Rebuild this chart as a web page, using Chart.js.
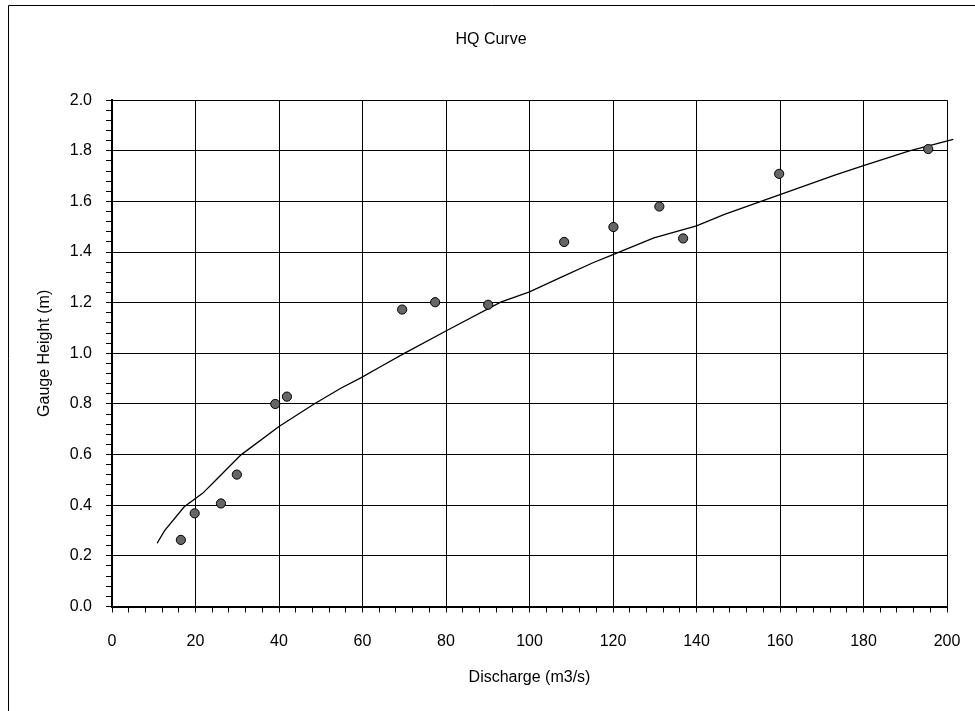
<!DOCTYPE html>
<html lang="en">
<head>
    <meta charset="UTF-8">
    <title>HQ Curve</title>
    <script src="https://cdn.jsdelivr.net/npm/chart.js@4.4.0/dist/chart.umd.min.js"></script>
    <style>
        html, body { margin: 0; padding: 0; background: #fff; }
        #hqChart { display: block; }
    </style>
</head>
<body>
    <canvas id="hqChart" width="975" height="711"></canvas>

    <script>
        // Measured discharge / gauge height pairs
        const measQ = [16.5, 19.8, 26.1, 29.9, 39.1, 41.9, 69.5, 77.4, 90.1, 108.3, 120.1, 131.1, 136.8, 159.8, 195.5];
        const measH = [0.263, 0.368, 0.407, 0.521, 0.80, 0.829, 1.173, 1.202, 1.192, 1.44, 1.499, 1.58, 1.454, 1.709, 1.807];

        // Fitted rating curve, traced point by point
        const curveQ = [10.8, 12.6, 17.3, 21.7, 24.9, 30.9, 40, 48.4, 54.8, 59.7, 64.4, 70, 81.1, 93.1, 100, 107.5, 115.2, 120, 129.8, 140, 146.7, 160, 173.3, 180, 191, 201.5];
        const curveH = [0.25, 0.30, 0.394, 0.447, 0.50, 0.599, 0.711, 0.80, 0.862, 0.904, 0.948, 1.0, 1.098, 1.202, 1.243, 1.30, 1.358, 1.39, 1.456, 1.504, 1.549, 1.627, 1.705, 1.742, 1.80, 1.845];

        // Axis ranges and tick steps
        const xRange = [0, 200];
        const yRange = [0, 2];
        const xMajor = 20, xMinor = 4;
        const yMajor = 0.2, yMinor = 0.04;

        const isMajor = (v, major, minor) => Math.round(v / minor) % Math.round(major / minor) === 0;

        Chart.defaults.font.family = '"Liberation Sans", Arial, sans-serif';
        Chart.defaults.font.size = 16;
        Chart.defaults.color = '#000';

        // white background + the outer chart frame (only top and left show in the crop)
        const framePlugin = {
            id: 'frame',
            beforeDraw(chart) {
                const c = chart.ctx;
                c.save();
                c.fillStyle = '#fff';
                c.fillRect(0, 0, chart.width, chart.height);
                c.strokeStyle = '#000';
                c.lineWidth = 1;
                c.beginPath();
                c.moveTo(8.5, chart.height);
                c.lineTo(8.5, 5.5);
                c.lineTo(chart.width, 5.5);
                c.stroke();
                c.restore();
            }
        };

        const ctx = document.getElementById('hqChart').getContext('2d');
        const chart = new Chart(ctx, {
            type: 'scatter',
            data: {
                datasets: [
                    {
                        label: 'Measured',
                        data: measQ.map((q, i) => ({ x: q, y: measH[i] })),
                        backgroundColor: '#666666',
                        borderColor: '#000',
                        borderWidth: 1,
                        pointRadius: 4.6,
                        order: 1
                    },
                    {
                        label: 'Rating curve',
                        type: 'line',
                        data: curveQ.map((q, i) => ({ x: q, y: curveH[i] })),
                        borderColor: '#000',
                        borderWidth: 1.3,
                        pointRadius: 0,
                        tension: 0,
                        fill: false,
                        clip: false,
                        order: 2
                    }
                ]
            },
            options: {
                responsive: false,
                animation: false,
                layout: { autoPadding: false, padding: { left: 35, right: 28, top: 0, bottom: 0 } },
                plugins: {
                    legend: { display: false },
                    tooltip: { enabled: false },
                    title: {
                        display: true,
                        text: 'HQ Curve',
                        color: '#000',
                        font: { size: 16, weight: 'normal' },
                        padding: { top: 30, bottom: 51 }
                    }
                },
                scales: {
                    x: {
                        type: 'linear',
                        min: xRange[0],
                        max: xRange[1],
                        afterFit: s => {
                            s.height = 711 - 606.5;
                            // keep the label padding from squeezing the plot area
                            s.paddingLeft = 14;
                            s.paddingRight = 14;
                        },
                        ticks: {
                            stepSize: xMinor,
                            autoSkip: false,
                            maxRotation: 0,
                            padding: 19,
                            callback: v => isMajor(v, xMajor, xMinor) ? String(v) : ''
                        },
                        grid: {
                            color: c => (c.tick && isMajor(c.tick.value, xMajor, xMinor)) ? '#000' : 'rgba(0,0,0,0)',
                            tickColor: '#000',
                            tickLength: 6,
                            lineWidth: 1
                        },
                        border: { color: '#000', width: 2 },
                        title: {
                            display: true,
                            text: 'Discharge (m3/s)',
                            font: { size: 16 },
                            padding: { top: 0, bottom: 24 }
                        }
                    },
                    y: {
                        type: 'linear',
                        min: yRange[0],
                        max: yRange[1],
                        afterFit: s => { s.width = 77; },
                        ticks: {
                            stepSize: yMinor,
                            autoSkip: false,
                            padding: 14,
                            callback: v => isMajor(v, yMajor, yMinor) ? v.toFixed(1) : ''
                        },
                        grid: {
                            color: c => (c.tick && isMajor(c.tick.value, yMajor, yMinor)) ? '#000' : 'rgba(0,0,0,0)',
                            tickColor: '#000',
                            tickLength: 6,
                            lineWidth: 1
                        },
                        border: { color: '#000', width: 2 },
                        title: {
                            display: true,
                            text: 'Gauge Height (m)',
                            font: { size: 16 },
                            padding: { top: 0, bottom: 0 }
                        }
                    }
                }
            },
            plugins: [framePlugin]
        });
    </script>
</body>
</html>
